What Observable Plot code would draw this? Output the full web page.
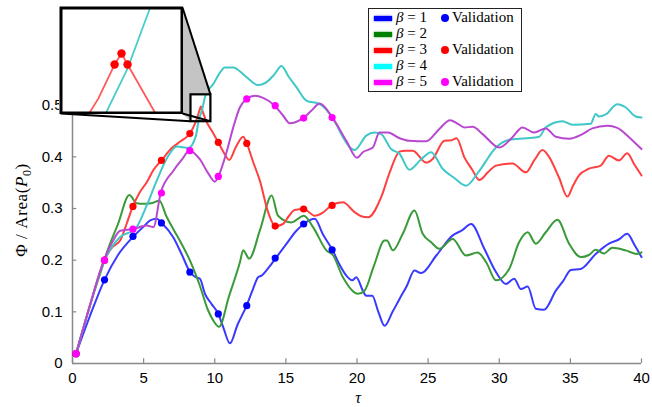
<!DOCTYPE html>
<html>
<head>
<meta charset="utf-8">
<script src="https://cdn.jsdelivr.net/npm/d3@7"></script>
<script src="https://cdn.jsdelivr.net/npm/@observablehq/plot@0.6"></script>
<style>
  body { margin: 0; background: white; }
  #wrap { position: relative; width: 652px; height: 407px; overflow: hidden; background: white; }
  #legend { position: absolute; left: 368px; top: 8px; width: 152px; height: 82px; border: 1.5px solid #222; background: white;
            font-family: "Liberation Serif", "Times New Roman", serif; font-size: 15px; color: black; }
  .row { position: absolute; left: 0; height: 16px; width: 150px; }
  .sw { position: absolute; left: 5px; top: 6px; width: 18px; height: 5px; }
  .lab { position: absolute; left: 27px; top: -1px; white-space: nowrap; }
  .vd { position: absolute; left: 72px; top: 4px; width: 8px; height: 8px; border-radius: 50%; }
  .vl { position: absolute; left: 83px; top: -1px; white-space: nowrap; }
</style>
</head>
<body>
<div id="wrap"></div>
<script>
// ---- data ----
const xTicks = [0, 5, 10, 15, 20, 25, 30, 35, 40];
const yTicks = [0, 0.1, 0.2, 0.3, 0.4, 0.5];

const beta1 = [[0.25,0.019],[1.2,0.09],[2.25,0.162],[3.2,0.21],[4.29,0.246],[5.0,0.265],[5.46,0.277],[5.92,0.28],[6.27,0.272],[7.09,0.244],[7.7,0.21],[8.26,0.177],[8.6,0.168],[8.96,0.164],[9.31,0.135],[9.78,0.115],[10.25,0.096],[10.6,0.07],[11.07,0.039],[11.6,0.075],[12.24,0.112],[12.7,0.145],[13.05,0.167],[13.29,0.17],[13.8,0.186],[14.29,0.204],[15.0,0.23],[15.74,0.257],[16.26,0.27],[17.03,0.28],[17.6,0.25],[18.27,0.22],[18.8,0.19],[19.25,0.17],[19.67,0.161],[19.95,0.167],[20.41,0.141],[20.65,0.131],[21.07,0.131],[21.5,0.1],[21.94,0.073],[22.5,0.1],[22.99,0.125],[23.5,0.15],[24.04,0.18],[24.5,0.175],[25.6,0.21],[26.73,0.248],[27.4,0.258],[28.02,0.27],[28.95,0.222],[29.77,0.177],[30.47,0.154],[31.05,0.164],[31.52,0.144],[32.0,0.149],[32.57,0.106],[33.15,0.104],[33.98,0.141],[34.5,0.16],[35.03,0.181],[35.73,0.183],[36.78,0.212],[37.71,0.232],[38.4,0.24],[39.0,0.251],[39.5,0.23],[40,0.206]];

const beta2 = [[0.25,0.019],[1.2,0.11],[2.25,0.2],[2.42,0.215],[3.2,0.27],[4.0,0.326],[4.52,0.31],[4.99,0.309],[5.5,0.31],[6.11,0.315],[6.6,0.285],[7.09,0.26],[7.7,0.23],[8.26,0.199],[8.96,0.15],[9.5,0.105],[9.9,0.083],[10.3,0.071],[11.0,0.13],[11.77,0.196],[12.0,0.219],[12.42,0.203],[13.2,0.26],[14.0,0.325],[14.45,0.286],[15.39,0.273],[16.26,0.286],[16.91,0.264],[17.85,0.219],[18.3,0.21],[19.01,0.167],[20.07,0.135],[20.53,0.141],[21.2,0.19],[21.94,0.238],[22.1,0.238],[22.52,0.219],[23.2,0.25],[24.04,0.296],[24.62,0.251],[25.2,0.235],[25.79,0.222],[26.73,0.241],[27.66,0.209],[28.48,0.215],[29.1,0.195],[29.77,0.161],[30.7,0.183],[31.4,0.235],[32.0,0.254],[32.57,0.232],[33.27,0.254],[34.09,0.278],[34.91,0.232],[35.73,0.206],[36.3,0.21],[36.78,0.22],[37.36,0.213],[37.95,0.224],[38.88,0.219],[39.7,0.212],[40,0.215]];

const beta3 = [[0.25,0.019],[1.2,0.11],[2.25,0.2],[2.8,0.225],[3.35,0.238],[3.8,0.27],[4.24,0.304],[4.7,0.33],[5.22,0.351],[5.7,0.375],[6.25,0.393],[6.98,0.417],[7.6,0.43],[8.25,0.445],[8.54,0.46],[8.76,0.475],[8.95,0.492],[9.03,0.4975],[9.1,0.492],[9.42,0.468],[9.8,0.45],[10.25,0.428],[10.6,0.41],[11.02,0.394],[11.5,0.42],[12.0,0.439],[12.25,0.426],[12.7,0.39],[13.17,0.354],[13.75,0.293],[14.25,0.266],[14.8,0.27],[15.2,0.285],[15.62,0.297],[16.25,0.299],[17.03,0.286],[17.6,0.292],[18.2,0.306],[19.01,0.312],[19.83,0.293],[20.3,0.285],[20.77,0.283],[21.7,0.322],[22.3,0.37],[22.99,0.41],[23.4,0.412],[23.92,0.412],[24.86,0.389],[25.32,0.396],[26.14,0.431],[26.6,0.432],[27.0,0.436],[27.55,0.399],[28.1,0.375],[28.6,0.355],[29.2,0.37],[29.77,0.383],[30.93,0.387],[31.87,0.37],[32.5,0.395],[33.04,0.413],[33.5,0.4],[34.2,0.36],[34.79,0.323],[35.2,0.345],[35.61,0.364],[36.31,0.377],[37.13,0.383],[37.71,0.402],[38.41,0.393],[39.0,0.407],[39.5,0.385],[40,0.364]];

const beta4 = [[0.25,0.019],[1.2,0.11],[2.25,0.2],[3.35,0.245],[4.4,0.26],[5.22,0.306],[5.92,0.354],[6.74,0.402],[7.33,0.42],[8.14,0.417],[8.68,0.441],[8.85,0.468],[9.1,0.49],[9.36,0.52],[9.9,0.541],[10.3,0.56],[10.72,0.573],[11.3,0.573],[12.12,0.557],[13.05,0.539],[13.75,0.547],[14.2,0.56],[14.69,0.576],[15.2,0.555],[15.74,0.535],[16.44,0.509],[17.38,0.502],[18.08,0.483],[18.6,0.46],[19.01,0.438],[19.83,0.413],[20.65,0.441],[21.23,0.447],[21.7,0.444],[22.4,0.415],[22.99,0.406],[23.69,0.375],[24.5,0.395],[25.21,0.409],[26.02,0.377],[26.8,0.36],[27.66,0.344],[28.6,0.373],[29.77,0.418],[30.7,0.433],[31.87,0.436],[32.81,0.439],[33.27,0.457],[34.44,0.469],[35.14,0.462],[36.43,0.464],[36.78,0.483],[37.01,0.478],[37.48,0.482],[38.3,0.502],[38.88,0.496],[39.59,0.478],[40,0.476]];

const beta5 = [[0.25,0.019],[1.2,0.11],[2.2,0.199],[2.8,0.235],[3.35,0.257],[4.24,0.26],[5.22,0.267],[5.69,0.264],[6.2,0.33],[7.09,0.373],[7.7,0.395],[8.21,0.412],[8.96,0.395],[9.5,0.37],[10.01,0.352],[10.25,0.362],[10.83,0.409],[11.3,0.457],[11.77,0.496],[12.24,0.512],[12.82,0.518],[13.4,0.514],[14.22,0.499],[14.8,0.48],[15.27,0.465],[16.21,0.475],[16.79,0.489],[17.38,0.503],[18.27,0.476],[19.25,0.431],[20.0,0.398],[20.41,0.409],[21.11,0.418],[21.58,0.447],[22.17,0.447],[22.99,0.436],[23.69,0.431],[24.86,0.43],[25.79,0.454],[26.54,0.471],[27.08,0.464],[27.55,0.457],[28.13,0.458],[28.83,0.444],[30.0,0.418],[30.93,0.438],[31.63,0.457],[32.45,0.447],[33.27,0.455],[33.98,0.439],[34.91,0.435],[35.84,0.444],[36.54,0.455],[37.6,0.46],[38.3,0.456],[39.12,0.438],[40,0.415]];

const validationT = [0.25, 2.25, 4.25, 6.25, 8.25, 10.25, 12.25, 14.25, 16.25, 18.25];
const validation1 = [0.019, 0.162, 0.246, 0.272, 0.177, 0.096, 0.112, 0.204, 0.27, 0.22];
const validation3 = [0.019, 0.2, 0.304, 0.393, 0.445, 0.428, 0.426, 0.266, 0.299, 0.306];
const validation5 = [0.019, 0.2, 0.26, 0.33, 0.412, 0.362, 0.512, 0.499, 0.475, 0.476];

// zoomed region shown in the inset
const zoomX = [8.33, 9.73];
const zoomY = [0.468, 0.52];
const insetValidationT = [8.95, 9.03, 9.1];
const insetValidation3 = [0.492, 0.4975, 0.492];

const legendLabels = ["1", "2", "3", "4", "5"];
const legendHasValidation = [true, false, true, false, true];

// ---- styles ----
const lineColors = ["#3a3aff", "#3a9a3a", "#ff4040", "#40c8c8", "#b848d0"];
const keyColors  = ["#0000ff", "#008000", "#ff0000", "#00ffff", "#ff00ff"];
const series = [beta1, beta2, beta3, beta4, beta5];

const wrap = document.getElementById("wrap");

const lineMarks = series.map((s, i) => Plot.line(s, {
  x: d => d[0], y: d => d[1], stroke: lineColors[i], strokeWidth: 2, curve: "monotone-x"
}));

const dotMark = (vals, color) => Plot.dot(validationT, {
  x: d => d, y: (d, i) => vals[i], fill: color, r: 3.6, stroke: "none"
});

const plot = Plot.plot({
  width: 652, height: 407,
  marginLeft: 72, marginRight: 11, marginTop: 53, marginBottom: 44,
  x: { domain: [0, 40] },
  y: { domain: [0, 0.6] },
  style: { fontFamily: "'Liberation Sans', Arial, sans-serif", fontSize: "15px", color: "black", background: "transparent" },
  marks: [
    Plot.ruleX(xTicks, { x: d => d, y1: 0, y2: 0.009, stroke: "#888", strokeWidth: 1.2 }),
    Plot.ruleY(yTicks, { y: d => d, x1: 0, x2: 0.3, stroke: "#888", strokeWidth: 1.2 }),
    Plot.axisX({ ticks: xTicks, tickSize: 0, tickPadding: 9, label: null, fontSize: 15 }),
    Plot.axisY({ ticks: yTicks, tickSize: 0, tickPadding: 10, label: null, fontSize: 15,
                 tickFormat: d => d === 0 ? "0" : d.toFixed(1) }),
    Plot.ruleX([0], { stroke: "#888", strokeWidth: 1.5 }),
    Plot.ruleY([0], { stroke: "#888", strokeWidth: 1.5 }),
    ...lineMarks,
    dotMark(validation1, "#0000ff"),
    dotMark(validation3, "#ff0000"),
    dotMark(validation5, "#ff00ff"),
  ]
});
plot.style.position = "absolute";
plot.style.left = "0px";
plot.style.top = "0px";
wrap.appendChild(plot);

// connectors + small zoom box (positions from the plot's scales)
const sx = plot.scale("x"), sy = plot.scale("y");
const l = sx.apply(zoomX[0]), r = sx.apply(zoomX[1]);
const t = sy.apply(zoomY[1]), b = sy.apply(zoomY[0]);
const L = 60.5, T = 7.5, R = 182.5, B = 113.5;  // inset box placement (layout)
const svg = d3.select(plot);
const g = svg.append("g");
g.append("polygon")
  .attr("points", [[R,T],[r,t],[l,t],[l,b],[R,B]].map(p => p.join(",")).join(" "))
  .attr("fill", "#c4c4c4");
g.append("line").attr("x1", R).attr("y1", T).attr("x2", r).attr("y2", t).attr("stroke", "black").attr("stroke-width", 2);
g.append("line").attr("x1", L).attr("y1", B).attr("x2", l).attr("y2", b).attr("stroke", "black").attr("stroke-width", 2);
g.append("line").attr("x1", R).attr("y1", B).attr("x2", r).attr("y2", b).attr("stroke", "black").attr("stroke-width", 2);
g.append("rect").attr("x", l).attr("y", t).attr("width", r - l).attr("height", b - t)
  .attr("fill", "none").attr("stroke", "black").attr("stroke-width", 2.2);

// axis labels
svg.append("text").attr("x", 358).attr("y", 403).attr("text-anchor", "middle")
  .attr("font-family", "'Liberation Serif', serif").attr("font-style", "italic").attr("font-size", 16)
  .text("τ");
const yl = svg.append("text").attr("transform", "translate(27,210) rotate(-90)").attr("text-anchor", "middle")
  .attr("font-family", "'Liberation Serif', serif").attr("font-size", 17).attr("letter-spacing", 0.6);
yl.append("tspan").text("Φ / Area(");
yl.append("tspan").attr("font-style", "italic").text("P");
yl.append("tspan").attr("font-size", 12).attr("dy", 4).text("0");
yl.append("tspan").attr("dy", -4).text(")");

// inset
const inset = Plot.plot({
  width: 124, height: 108,
  marginLeft: 1.5, marginRight: 1.5, marginTop: 1.5, marginBottom: 1.5,
  x: { domain: zoomX }, y: { domain: zoomY },
  axis: null,
  style: { background: "white" },
  marks: [
    Plot.line(beta3, { x: d => d[0], y: d => d[1], stroke: "#ff5a5a", strokeWidth: 1.8, clip: true }),
    Plot.line(beta4, { x: d => d[0], y: d => d[1], stroke: "#48cccc", strokeWidth: 1.8, clip: true }),
    Plot.dot(insetValidationT, { x: d => d, y: (d, i) => insetValidation3[i], fill: "#ff0000", r: 4.2, clip: true }),
    Plot.frame({ stroke: "black", strokeWidth: 3 })
  ]
});
inset.style.position = "absolute";
inset.style.left = "59px";
inset.style.top = "6px";
wrap.appendChild(inset);

// legend
const leg = document.createElement("div");
leg.id = "legend";
legendLabels.forEach((lab, i) => {
  const row = document.createElement("div");
  row.className = "row";
  row.style.top = (1 + i * 16) + "px";
  let html = `<div class="sw" style="background:${keyColors[i]};box-shadow:0 0 2px ${keyColors[i]}"></div>` +
             `<div class="lab"><i>β</i> = ${lab}</div>`;
  if (legendHasValidation[i]) {
    html += `<div class="vd" style="background:${keyColors[i]}"></div><div class="vl">Validation</div>`;
  }
  row.innerHTML = html;
  leg.appendChild(row);
});
wrap.appendChild(leg);
</script>
</body>
</html>
